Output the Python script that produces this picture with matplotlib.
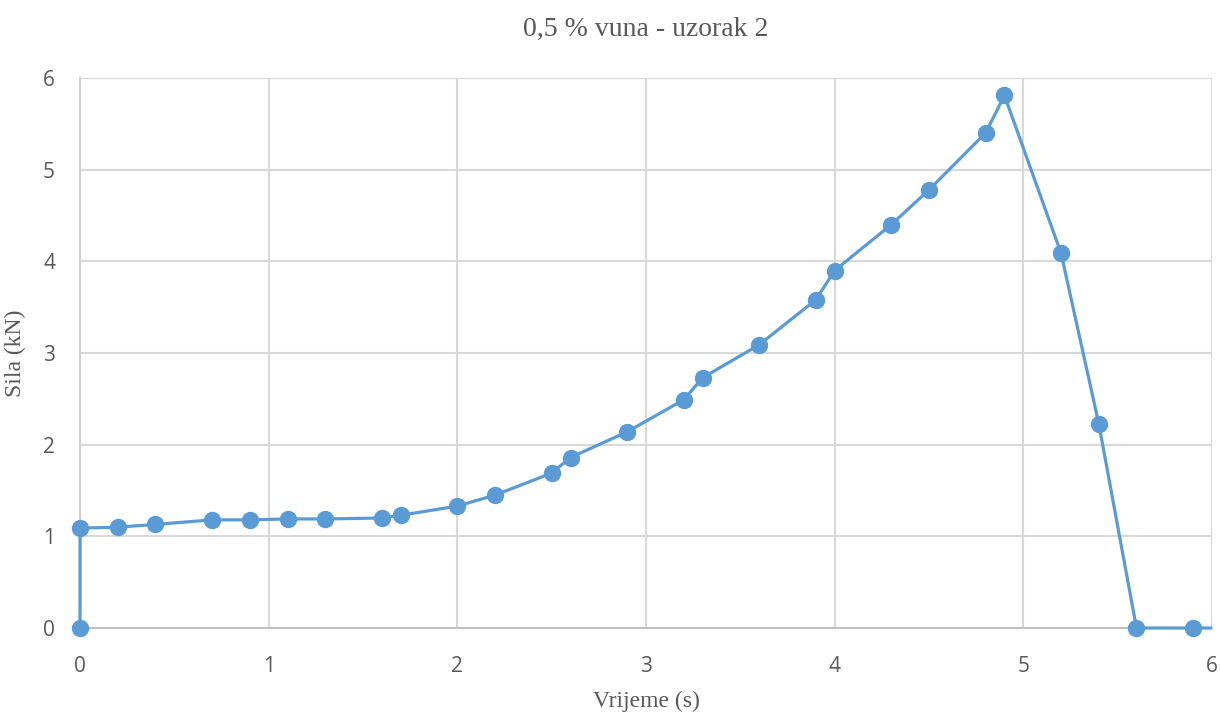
import matplotlib.pyplot as plt
from matplotlib.patches import Rectangle

# vrijeme (s) i sila (kN) ocitano s grafa
vrijeme = [0, 0, 0.2, 0.4, 0.7, 0.9, 1.1, 1.3, 1.6, 1.7, 2.0, 2.2, 2.5, 2.6, 2.9,
           3.2, 3.3, 3.6, 3.9, 4.0, 4.3, 4.5, 4.8, 4.9, 5.2, 5.4, 5.6, 5.9, 6.2]
sila = [0, 1.09, 1.10, 1.13, 1.18, 1.18, 1.19, 1.19, 1.20, 1.23, 1.33, 1.45, 1.69, 1.86, 2.14,
        2.49, 2.73, 3.09, 3.58, 3.90, 4.40, 4.78, 5.40, 5.81, 4.09, 2.23, 0, 0, 0]

naslov = "0,5 % vuna - uzorak 2"
x_oznaka = "Vrijeme (s)"
y_oznaka = "Sila (kN)"

boja = '#5b9bd5'
siva = '#595959'

fig = plt.figure(figsize=(12.2, 7.17), dpi=100)
ax = fig.add_axes([0.0656, 0.1241, 0.9278, 0.7671])

linija, = ax.plot(vrijeme, sila, color=boja, lw=2.3, marker='o', ms=11.5,
                  markeredgecolor=boja, zorder=3)
# odrezi samo desno (kao Excel), markeri na x=0 i y=0 ostaju cijeli
okvir = Rectangle((-0.05, -0.05), 1.05, 1.1, transform=ax.transAxes, visible=False)
ax.add_patch(okvir)
linija.set_clip_path(okvir)

ax.set_xlim(0, 6)
ax.set_ylim(0, 6)
ax.set_xticks(range(7))
ax.set_yticks(range(7))
ax.grid(True, color='#d9d9d9', lw=1.5)
ax.set_axisbelow(True)
for s in ['top', 'right']:
    ax.spines[s].set_visible(False)
ax.spines['left'].set_color('#d0d0d0')
ax.spines['left'].set_linewidth(1.5)
ax.spines['bottom'].set_color('#bfbfbf')
ax.spines['bottom'].set_linewidth(1.5)
ax.tick_params(length=0, labelsize=15, labelcolor=siva)
ax.tick_params(axis='x', pad=20)
ax.tick_params(axis='y', pad=18)
for lbl in ax.get_xticklabels() + ax.get_yticklabels():
    lbl.set_fontfamily('Open Sans')

ax.set_title(naslov, fontsize=20, color=siva, family='Liberation Serif', pad=30)
ax.set_xlabel(x_oznaka, fontsize=17, color=siva, family='Liberation Serif', labelpad=10)
ax.set_ylabel(y_oznaka, fontsize=17, color=siva, family='Liberation Serif', labelpad=12)

plt.savefig('out.png', dpi=100)
